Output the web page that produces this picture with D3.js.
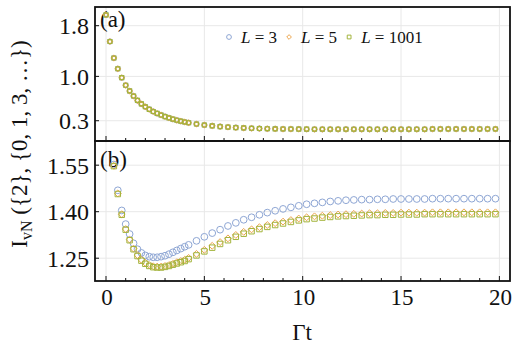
<!DOCTYPE html>
<html>
<head>
<meta charset="utf-8">
<script src="https://cdn.jsdelivr.net/npm/d3@7"></script>
<style>
  body { margin: 0; background: #fff; }
</style>
</head>
<body>
<svg id="chart" width="523" height="345" font-family="'Liberation Serif', 'Times New Roman', Times, 'DejaVu Serif', serif" fill="#111"></svg>
<script>
// time grid (denser sampling until t = 4)
const times = [0, 0.2, 0.4, 0.6, 0.8, 1.0, 1.2, 1.4, 1.6, 1.8, 2.0, 2.2, 2.4, 2.6, 2.8, 3.0, 3.2, 3.4, 3.6, 3.8, 4.0,
  4.2, 4.6, 5.0, 5.4, 5.8, 6.2, 6.6, 7.0, 7.4, 7.8, 8.2, 8.6, 9.0, 9.4, 9.8, 10.2,
  10.6, 11.0, 11.4, 11.8, 12.2, 12.6, 13.0, 13.4, 13.8, 14.2, 14.6, 15.0, 15.4, 15.8, 16.2,
  16.6, 17.0, 17.4, 17.8, 18.2, 18.6, 19.0, 19.4, 19.8];

// panel (a): all three L coincide
const topAll = [1.97, 1.55, 1.29, 1.12, 0.98, 0.86, 0.77, 0.69, 0.62, 0.565, 0.52, 0.48, 0.445, 0.415, 0.39, 0.365, 0.345, 0.325, 0.308, 0.293, 0.28,
  0.268, 0.248, 0.232, 0.219, 0.208, 0.199, 0.192, 0.186, 0.181, 0.177, 0.174, 0.172, 0.170, 0.169, 0.168, 0.167,
  0.166, 0.166, 0.166, 0.166, 0.166, 0.166, 0.166, 0.166, 0.166, 0.166, 0.166, 0.166, 0.166, 0.166, 0.166,
  0.17, 0.17, 0.17, 0.17, 0.17, 0.17, 0.17, 0.17, 0.17];

// panel (b); first two points lie above the frame
const botL3 = [null, null, 1.552, 1.469, 1.404, 1.360, 1.328, 1.298, 1.279, 1.267, 1.259, 1.255, 1.253, 1.253, 1.255, 1.258, 1.263, 1.269, 1.275, 1.281, 1.287,
  1.293, 1.306, 1.319, 1.331, 1.342, 1.354, 1.364, 1.374, 1.382, 1.390, 1.397, 1.403, 1.409, 1.414, 1.419, 1.424,
  1.427, 1.430, 1.433, 1.435, 1.437, 1.438, 1.439, 1.439, 1.440, 1.440, 1.441, 1.441, 1.441, 1.441, 1.441,
  1.442, 1.442, 1.442, 1.442, 1.442, 1.442, 1.442, 1.442, 1.442];
const botL5 = [null, null, 1.548, 1.459, 1.392, 1.344, 1.310, 1.281, 1.260, 1.245, 1.235, 1.228, 1.224, 1.223, 1.223, 1.225, 1.228, 1.232, 1.237, 1.241, 1.245,
  1.251, 1.264, 1.277, 1.290, 1.302, 1.314, 1.325, 1.335, 1.343, 1.350, 1.357, 1.363, 1.368, 1.373, 1.378, 1.382,
  1.385, 1.387, 1.389, 1.391, 1.392, 1.393, 1.394, 1.395, 1.395, 1.396, 1.396, 1.397, 1.397, 1.397, 1.397,
  1.398, 1.398, 1.398, 1.398, 1.398, 1.398, 1.398, 1.398, 1.398];
const botL1001 = [null, null, 1.547, 1.457, 1.390, 1.342, 1.308, 1.279, 1.257, 1.242, 1.232, 1.225, 1.221, 1.220, 1.220, 1.222, 1.225, 1.229, 1.233, 1.237, 1.241,
  1.247, 1.259, 1.272, 1.284, 1.296, 1.308, 1.319, 1.329, 1.337, 1.344, 1.351, 1.357, 1.362, 1.367, 1.372, 1.376,
  1.378, 1.381, 1.383, 1.385, 1.386, 1.387, 1.388, 1.389, 1.389, 1.390, 1.390, 1.391, 1.391, 1.391, 1.392,
  1.392, 1.392, 1.392, 1.392, 1.392, 1.392, 1.392, 1.392, 1.392];

const legendL = ["3", "5", "1001"];
const xTicks = [0, 5, 10, 15, 20];
const xMinor = [1, 2, 3, 4, 6, 7, 8, 9, 11, 12, 13, 14, 16, 17, 18, 19];
const topTicks = [0.3, 1.0, 1.8];
const botTicks = [1.25, 1.40, 1.55];

const colors = ["#8ea6d4", "#eda64e", "#a3b43c"];
const shapes = [d3.symbolCircle, d3.symbolDiamond2, d3.symbolSquare2];

const svg = d3.select("#chart");
const left = 95, right = 510;
const x = d3.scaleLinear().domain([-0.56, 20.54]).range([left, right]);
const yTop = d3.scaleLinear().domain([-0.02, 2.095]).range([141, 7]);
const yBot = d3.scaleLinear().domain([1.1765, 1.628]).range([281, 141]);

// panel labels go underneath the markers
svg.append("text").attr("x", 100).attr("y", 27).attr("font-size", 23).text("(a)");
svg.append("text").attr("x", 100).attr("y", 167).attr("font-size", 23).text("(b)");

function panel(y, yticks, fmt, series, sizes, sw, id) {
  const [y0, y1] = y.range();
  const g = svg.insert("g", "text");
  const g2 = svg.append("g");
  g.append("clipPath").attr("id", id).append("rect")
    .attr("x", left).attr("y", y1).attr("width", right - left).attr("height", y0 - y1);
  // grid
  g.selectAll(".gx").data(xTicks).join("line")
    .attr("x1", d => x(d)).attr("x2", d => x(d)).attr("y1", y1).attr("y2", y0)
    .attr("stroke", "#e8e8e8");
  g.selectAll(".gy").data(yticks).join("line")
    .attr("x1", left).attr("x2", right).attr("y1", d => y(d)).attr("y2", d => y(d))
    .attr("stroke", "#e8e8e8");
  // points
  const pg = g2.append("g").attr("clip-path", `url(#${id})`);
  series.forEach((vals, i) => {
    const pts = times.map((t, k) => [t, vals[k]]).filter(d => d[1] != null);
    pg.append("g").selectAll("path").data(pts).join("path")
      .attr("transform", d => `translate(${x(d[0])},${y(d[1])})`)
      .attr("d", d3.symbol(shapes[i], sizes[i]))
      .attr("fill", "none").attr("stroke", colors[i]).attr("stroke-width", sw);
  });
  // ticks
  g2.selectAll(".tx").data(xTicks).join("line")
    .attr("x1", d => x(d)).attr("x2", d => x(d)).attr("y1", y0).attr("y2", y0 - 5)
    .attr("stroke", "#111");
  g2.selectAll(".tm").data(xMinor).join("line")
    .attr("x1", d => x(d)).attr("x2", d => x(d)).attr("y1", y0).attr("y2", y0 - 3)
    .attr("stroke", "#111");
  g2.selectAll(".ty").data(yticks).join("line")
    .attr("x1", left).attr("x2", left + 4).attr("y1", d => y(d)).attr("y2", d => y(d))
    .attr("stroke", "#111");
  g2.selectAll(".ly").data(yticks).join("text")
    .attr("x", left - 6).attr("y", d => y(d) + 8.5)
    .attr("text-anchor", "end").attr("font-size", 24)
    .text(d => d3.format(fmt)(d));
  // frame
  g2.append("rect").attr("x", left).attr("y", y1).attr("width", right - left).attr("height", y0 - y1)
    .attr("fill", "none").attr("stroke", "#111").attr("stroke-width", 1.8);
}

panel(yTop, topTicks, ".1f", [topAll, topAll, topAll], [18, 17, 20], 1.2, "clipA");
panel(yBot, botTicks, ".2f", [botL3, botL5, botL1001], [36, 30, 38], 1, "clipB");

// x tick labels
svg.selectAll(".lx").data(xTicks).join("text")
  .attr("x", d => x(d) + 1).attr("y", 305)
  .attr("text-anchor", "middle").attr("font-size", 23)
  .text(d => d);

svg.append("text").attr("x", 302).attr("y", 340).attr("text-anchor", "middle")
  .attr("font-size", 23).text("Γt");

// y label
const yl = svg.append("text").attr("transform", "translate(27,144) rotate(-90)")
  .attr("text-anchor", "middle").attr("font-size", 23);
yl.append("tspan").text("I");
yl.append("tspan").attr("font-size", 16).attr("dy", 5).text("vN");
yl.append("tspan").attr("dy", -5).text(" ({2}, {0, 1, 3, …})");

// legend
const leg = svg.append("g").attr("transform", "translate(229,37)");
let lx = 0;
legendL.forEach((l, i) => {
  leg.append("path").attr("transform", `translate(${lx},0)`)
    .attr("d", d3.symbol(shapes[i], [18, 14, 18][i]))
    .attr("fill", "none").attr("stroke", colors[i]).attr("stroke-width", 1);
  const t = leg.append("text").attr("x", lx + 12).attr("y", 6).attr("font-size", 17);
  t.append("tspan").attr("font-style", "italic").text("L");
  t.append("tspan").text(" = " + l);
  lx += 12 + t.node().getComputedTextLength() + 12;
});
</script>
</body>
</html>
